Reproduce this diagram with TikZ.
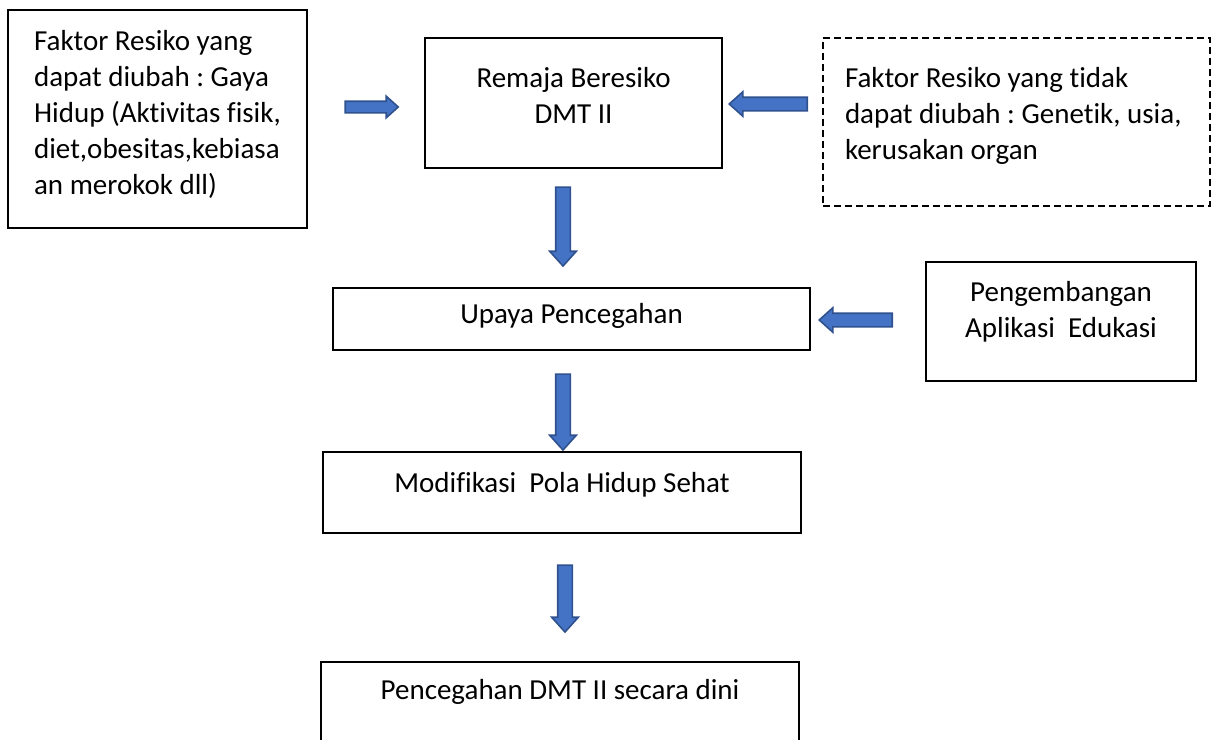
\documentclass[tikz,border=0pt]{standalone}
\usepackage{fontspec}
\setmainfont{Carlito}[Ligatures=NoCommon]
\usetikzlibrary{shapes.arrows}
\definecolor{ArrowBlue}{HTML}{4472C4}
\definecolor{ArrowEdge}{HTML}{2F528F}

\begin{document}
\begin{tikzpicture}[x=1pt, y=-1pt,
  box/.style={rectangle, draw, line width=1.6pt, inner sep=0pt, text height=21pt,
    font=\fontsize{29}{36}\selectfont\frenchspacing},
  dbox/.style={box, dash pattern=on 7pt off 4pt},
  blockarrow/.style={single arrow, draw=ArrowEdge, fill=ArrowBlue,
    line width=1.6pt, inner xsep=0pt, inner ysep=6.5pt,
    single arrow head extend=6pt, single arrow tip angle=84}
]
  \useasboundingbox (0,0) rectangle (1212,739);

  \node[box, minimum width=299pt, minimum height=218pt, text height=157pt, text depth=7pt, align=left] (risk) at (157.5,119)
    {Faktor Resiko yang\\dapat diubah : Gaya\\Hidup (Aktivitas fisik,\\diet,obesitas,kebiasa\\an merokok dll)};
  \node[box, minimum width=297pt, minimum height=130pt, text depth=53pt, text width=297pt, align=flush center] (remaja) at (573.5,103)
    {Remaja Beresiko\\DMT II};
  \node[dbox, minimum width=387pt, minimum height=168pt, text depth=91pt, inner xsep=22pt, text width=343pt, align=flush left] (fixed) at (1016.5,122)
    {Faktor Resiko yang tidak\\dapat diubah : Genetik, usia,\\kerusakan organ};
  \node[box, minimum width=477pt, minimum height=62pt, text depth=13pt] (upaya) at (571.5,319) {Upaya Pencegahan};
  \node[box, minimum width=270pt, minimum height=119pt, text depth=62pt, text width=270pt, align=flush center] (apps) at (1061,321.5)
    {Pengembangan\\Aplikasi\ \ Edukasi};
  \node[box, minimum width=478pt, minimum height=81pt, text depth=22pt] (modif) at (562,492.5) {Modifikasi\ \ Pola Hidup Sehat};
  \node[box, minimum width=478pt, minimum height=108pt, text depth=55pt] (dini) at (560,716) {Pencegahan DMT II secara dini};

  \node[blockarrow, minimum height=53pt, inner ysep=5pt, single arrow head extend=5pt] (a1) at (368.5,107) {};
  \node[blockarrow, minimum height=78pt, inner ysep=6pt, single arrow head extend=5.5pt, rotate=180] (a2) at (772,104) {};
  \node[blockarrow, minimum height=79pt, rotate=-90] (a3) at (563,222.5) {};
  \node[blockarrow, minimum height=73pt, inner ysep=6pt, single arrow head extend=5.5pt, rotate=180] (a4) at (859.5,320) {};
  \node[blockarrow, minimum height=76pt, rotate=-90] (a5) at (563,408) {};
  \node[blockarrow, minimum height=67pt, rotate=-90] (a6) at (565,594.5) {};
\end{tikzpicture}
\end{document}
